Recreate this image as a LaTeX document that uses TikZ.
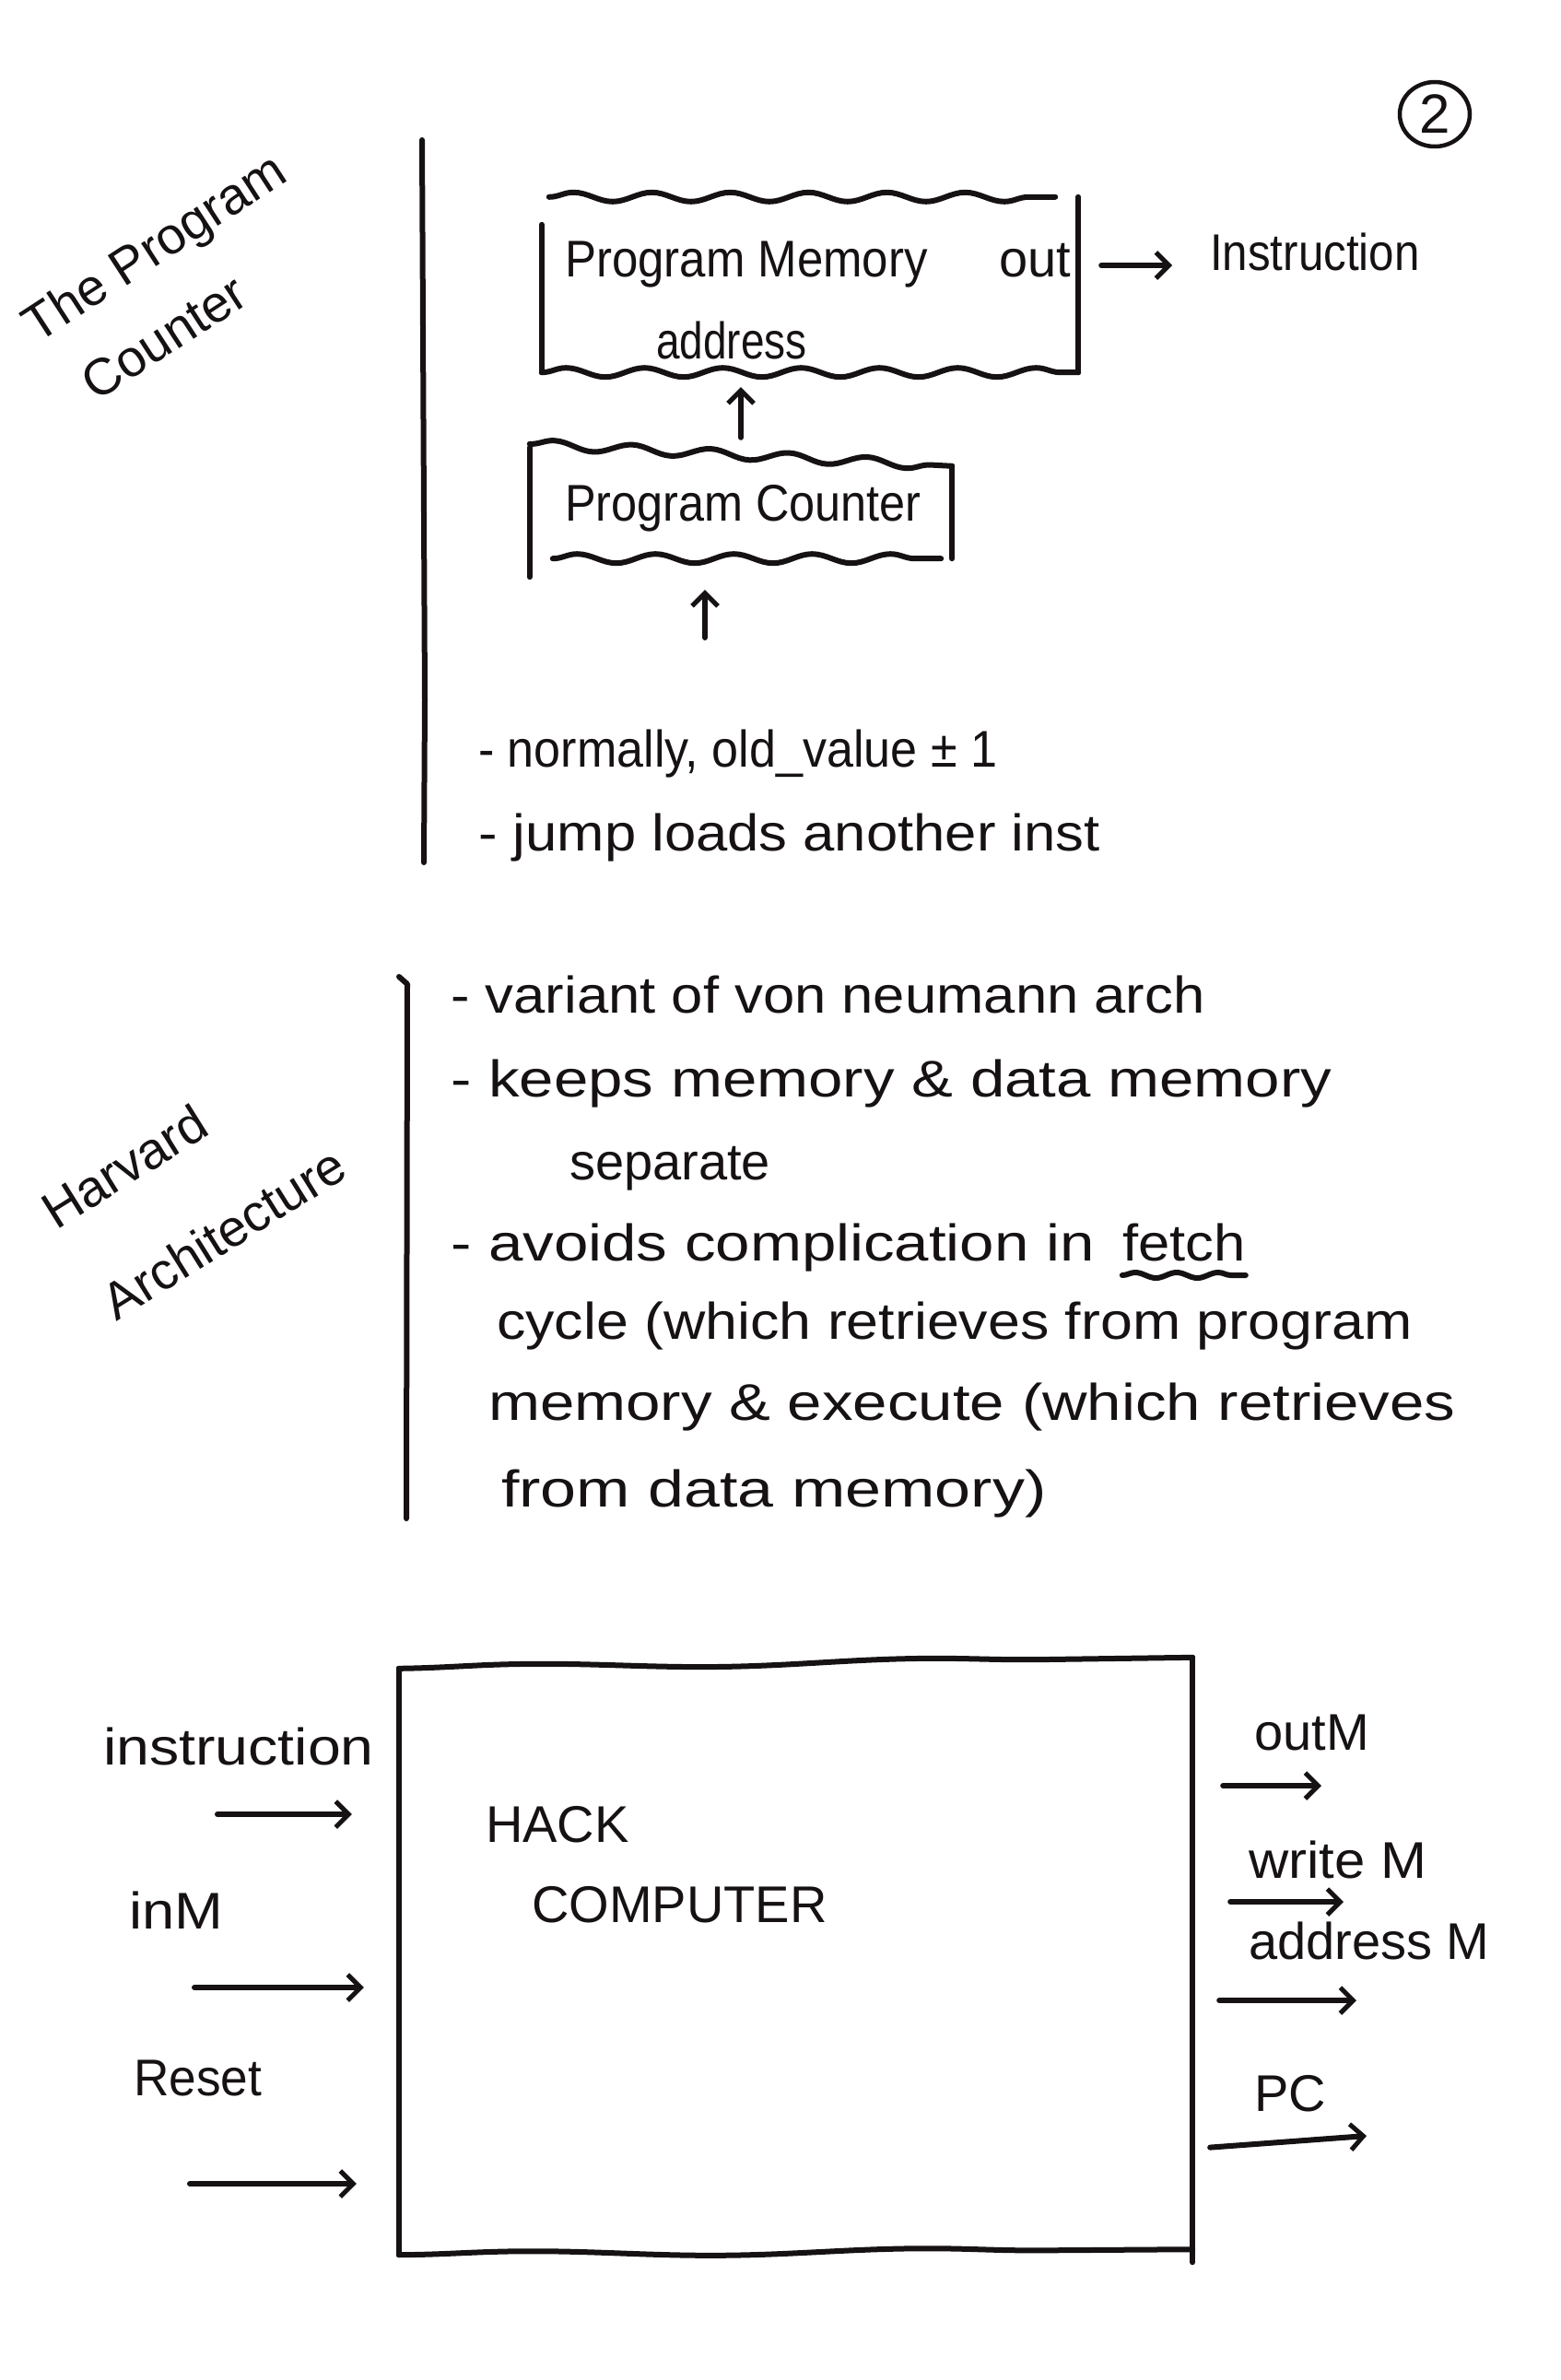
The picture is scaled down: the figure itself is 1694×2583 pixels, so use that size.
\documentclass[tikz,border=0pt]{standalone}
\usepackage{fontspec}
\setmainfont{Liberation Sans}
\usetikzlibrary{arrows.meta,decorations.pathmorphing,shapes.geometric}
\definecolor{ink}{HTML}{161214}
\newcommand\handfont{\fontsize{56}{66}\selectfont}
\begin{document}
\begin{tikzpicture}[x=1pt,y=-1pt,
  txt/.style={font=\handfont, text=ink, inner sep=0pt, anchor=base west},
  lbl/.style={font=\handfont, text=ink, inner sep=0pt},
  sx/.style={font=\handfont\addfontfeature{FakeStretch=#1}},
  pen/.style={draw=ink, line width=6pt, line cap=round, line join=round},
  wavy/.style={pen, decorate, decoration={snake, amplitude=5pt, segment length=85pt}},
  softwave/.style={pen, decorate, decoration={snake, amplitude=3pt, segment length=430pt}},
  arr/.style={pen, -{Straight Barb[length=14pt,width=28pt,line width=5pt]}},
  area/.style={draw=none, inner sep=0pt}
]
\fill[white] (0,0) rectangle (1694,2583);
\useasboundingbox (0,0) rectangle (1694,2583);

% page number
\node[lbl, pen, ellipse, minimum width=76pt, minimum height=70pt, line width=4.5pt, font=\fontsize{60}{66}\selectfont] (pg) at (1557,124) {2};

% ---------------- The Program Counter ----------------
\node[lbl, rotate=33] (t1) at (170,272) {The Program};
\node[lbl, rotate=33] (t2) at (178,366) {Counter};
\coordinate (b1a) at (458,152);
\coordinate (b1b) at (461,760);
\coordinate (b1c) at (460,936);
\draw[pen] (b1a) -- (b1b) -- (b1c);

\node[area, minimum width=582pt, minimum height=190pt] (pm) at (879,309) {};
\draw[pen] ([yshift=-30pt]pm.north west) -- (pm.south west);
\draw[pen] (pm.north east) -- (pm.south east);
\draw[wavy] ([xshift=8pt]pm.north west) -- ([xshift=-25pt]pm.north east);
\draw[wavy] (pm.south west) -- (pm.south east);
\node[txt, sx=0.91] (pmt) at (613,300) {Program Memory};
\node[txt] (pmout) at (1084,300) {out};
\node[txt, sx=0.82] (pmaddr) at (712,389) {address};
\node[txt, sx=0.88] (instr) at (1313,293) {Instruction};
\draw[arr, shorten <=25pt, shorten >=41pt] ([yshift=-15pt]pm.east |- instr.west) -- ([yshift=-15pt]instr.west);

\node[area, minimum width=458pt, minimum height=128pt] (pc) at (804,542) {};
\draw[pen] ([yshift=-8pt]pc.north west) -- ([yshift=-20pt]pc.south west);
\draw[pen] ([yshift=-28pt]pc.north east) -- (pc.south east);
\draw[wavy] ([yshift=-4pt]pc.north west) -- ([yshift=-28pt]pc.north east);
\draw[wavy] ([xshift=25pt]pc.south west) -- ([xshift=-12pt]pc.south east);
\node[txt, sx=0.9] (pct) at (613,565) {Program Counter};
\draw[arr, shorten <=3pt, shorten >=16pt] (pc.north) -- (pc.north |- pm.south);
\coordinate (pcin) at (765,692);
\draw[arr, shorten >=34pt] (pcin) -- (pcin |- pc.south);

\node[txt, sx=0.93] (n1) at (519,832) {- normally, old\_value ± 1};
\node[txt, sx=1.1] (n2) at (519,923) {- jump loads another inst};

% ---------------- Harvard Architecture ----------------
\node[lbl, rotate=32] (h1) at (135,1266) {Harvard};
\node[lbl, rotate=32] (h2) at (243,1338) {Architecture};
\coordinate (b2a) at (433,1060);
\coordinate (b2b) at (442,1068);
\coordinate (b2c) at (441,1648);
\draw[pen] (b2a) -- (b2b) -- (b2c);

\node[txt, sx=1.1] (v1) at (489,1099) {- variant of von neumann arch};
\node[txt, sx=1.2] (v2) at (489,1190) {- keeps memory \& data memory};
\node[txt] (v3) at (618,1280) {separate};
\node[txt, sx=1.2] (v4) at (489,1368) {- avoids complication in};
\node[txt, sx=1.1] (fetch) at ([xshift=30pt]v4.base east) {fetch};
\draw[pen, decorate, decoration={snake, amplitude=3pt, segment length=45pt}] ([yshift=-16pt]fetch.base west) -- ([yshift=-16pt]fetch.base east);
\node[txt, sx=1.12] (v5) at (539,1453) {cycle (which retrieves from program};
\node[txt, sx=1.2] (v6) at (530,1541) {memory \& execute (which retrieves};
\node[txt, sx=1.25] (v7) at (544,1635) {from data memory)};

% ---------------- HACK Computer ----------------
\node[area, minimum width=861pt, minimum height=642pt] (hk) at (863.5,2126) {};
\draw[pen] ([yshift=-6pt]hk.north west) -- (hk.south west);
\draw[pen] ([yshift=6pt]hk.north east) -- ([yshift=-8pt]hk.south east);
\draw[softwave] ([yshift=-6pt]hk.north west) -- ([yshift=6pt]hk.north east);
\draw[softwave] (hk.south west) -- ([yshift=6pt]hk.south east);
\node[txt] (hack) at (527,1999) {HACK};
\node[txt] (comp) at (577,2086) {COMPUTER};

\node[txt, sx=1.15] (lin) at (112,1915) {instruction};
\node[txt, sx=1.13] (linm) at (140,2093) {inM};
\node[txt, sx=0.95] (lrst) at (145,2274) {Reset};
\coordinate (ai) at (236,1969);
\coordinate (am) at (211,2157);
\coordinate (ar) at (206,2370);
\draw[arr, shorten >=51pt] (ai) -- (ai -| hk.west);
\draw[arr, shorten >=38pt] (am) -- (am -| hk.west);
\draw[arr, shorten >=46pt] (ar) -- (ar -| hk.west);

\node[txt] (rout) at (1361,1899) {outM};
\node[txt, sx=1.07] (rwr) at (1355,2038) {write M};
\node[txt] (raddr) at (1355,2126) {address M};
\node[txt] (rpc) at (1361,2291) {PC};
\coordinate (ao) at (1434,1938);
\coordinate (aw) at (1458,2064);
\coordinate (aa) at (1472,2171);
\coordinate (ap) at (1483,2318);
\draw[arr, shorten <=33pt] (ao -| hk.east) -- (ao);
\draw[arr, shorten <=41pt] (aw -| hk.east) -- (aw);
\draw[arr, shorten <=29pt] (aa -| hk.east) -- (aa);
\draw[arr, shorten <=19pt] ([yshift=-14pt]ap -| hk.east) -- (ap);
\end{tikzpicture}
\end{document}
